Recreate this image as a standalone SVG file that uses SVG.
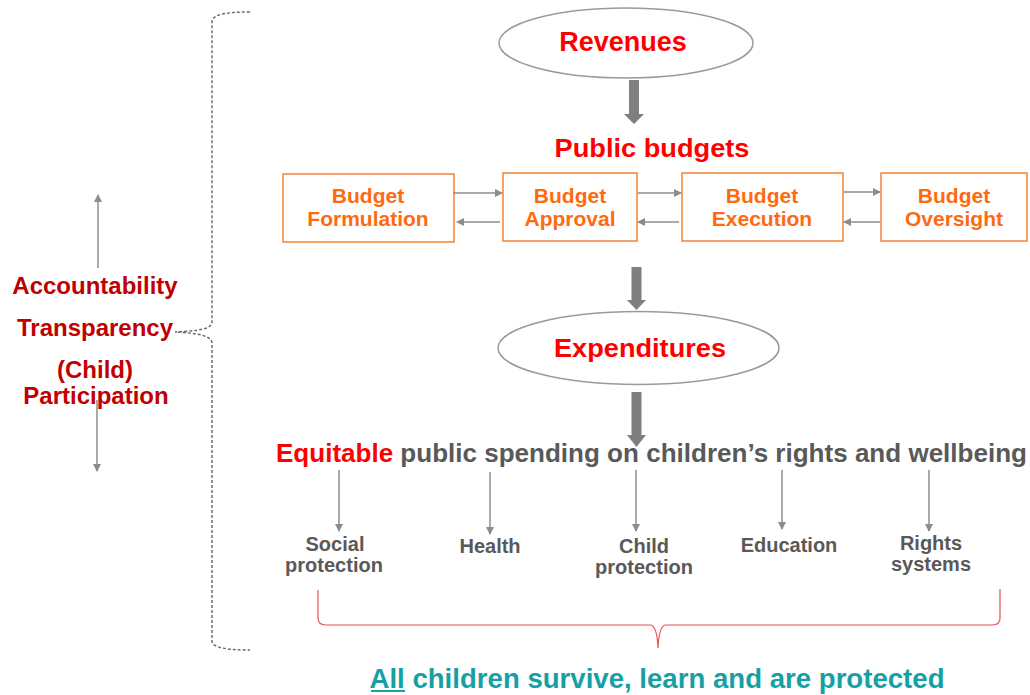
<svg xmlns="http://www.w3.org/2000/svg" width="1030" height="695" viewBox="0 0 1030 695">
  <style>
    text { font-family: "Liberation Sans", Arial, sans-serif; font-weight: bold; text-anchor: middle; }
    .red { fill: #FF0000; }
    .dred { fill: #C00000; font-size: 24px; }
    .org { fill: #FF6A10; font-size: 21px; }
    .gray { fill: #595959; }
    .cat { fill: #595959; font-size: 20px; }
    .teal { fill: #17A0A4; font-size: 27px; }
    .box { fill: #FFFFFF; stroke: #F58233; stroke-width: 1.5; }
    .ell { fill: #FFFFFF; stroke: #9A9A9A; stroke-width: 1.5; }
    .thin { stroke: #8C8C8C; stroke-width: 1.5; fill: none; marker-end: url(#tri); }
    .thick { fill: #7F7F7F; }
  </style>
  <defs>
    <marker id="tri" markerWidth="8" markerHeight="8" refX="7" refY="4" orient="auto" markerUnits="userSpaceOnUse">
      <path d="M0,0 L8,4 L0,8 Z" fill="#8C8C8C"/>
    </marker>
  </defs>

  <!-- Left governance principles with dashed brace -->
  <g id="principles">
    <text class="dred" x="95" y="294">Accountability</text>
    <text class="dred" x="95" y="336">Transparency</text>
    <text class="dred" x="95" y="378">(Child)</text>
    <text class="dred" x="96" y="404">Participation</text>
  </g>
  <g id="brace-left">
    <path d="M250,12 C228,12 212,14 212,22 L212,322 C212,329 198,331 175,332 C198,333 212,336 212,343 L212,641 C212,648 228,650 250,650" fill="none" stroke="#666666" stroke-width="1.4" stroke-dasharray="3 2"/>
  </g>

  <!-- Revenues -->
  <g id="revenues">
    <ellipse class="ell" cx="626" cy="43" rx="127" ry="35"/>
    <text class="red" x="623" y="51" font-size="27">Revenues</text>
  </g>

  <g id="public-budgets">
    <text class="red" x="652" y="157" font-size="26" textLength="195" lengthAdjust="spacingAndGlyphs">Public budgets</text>
  </g>

  <!-- Budget cycle stages -->
  <g id="formulation">
    <rect class="box" x="283" y="174" width="171" height="68"/>
    <text class="org" x="368" y="203">Budget</text>
    <text class="org" x="368" y="226">Formulation</text>
  </g>
  <g id="approval">
    <rect class="box" x="503" y="173" width="134" height="68"/>
    <text class="org" x="570" y="203">Budget</text>
    <text class="org" x="570" y="226">Approval</text>
  </g>
  <g id="execution">
    <rect class="box" x="682" y="173" width="161" height="68"/>
    <text class="org" x="762" y="203">Budget</text>
    <text class="org" x="762" y="226">Execution</text>
  </g>
  <g id="oversight">
    <rect class="box" x="881" y="173" width="146" height="68"/>
    <text class="org" x="954" y="203">Budget</text>
    <text class="org" x="954" y="226">Oversight</text>
  </g>

  <!-- Expenditures -->
  <g id="expenditures">
    <ellipse class="ell" cx="638.5" cy="348" rx="140.5" ry="36.5"/>
    <text class="red" x="640" y="357" font-size="26" textLength="172" lengthAdjust="spacingAndGlyphs">Expenditures</text>
  </g>

  <g id="equitable">
    <text x="276" y="462" font-size="25" style="text-anchor:start" textLength="751" lengthAdjust="spacingAndGlyphs"><tspan class="red">Equitable</tspan><tspan class="gray"> public spending on children’s rights and wellbeing</tspan></text>
  </g>

  <!-- Spending sectors -->
  <g id="social-protection">
    <text class="cat" x="335" y="551">Social</text>
    <text class="cat" x="334" y="572">protection</text>
  </g>
  <g id="health">
    <text class="cat" x="490" y="553">Health</text>
  </g>
  <g id="child-protection">
    <text class="cat" x="644" y="553">Child</text>
    <text class="cat" x="644" y="574">protection</text>
  </g>
  <g id="education">
    <text class="cat" x="789" y="552">Education</text>
  </g>
  <g id="rights-systems">
    <text class="cat" x="931" y="550">Rights</text>
    <text class="cat" x="931" y="571">systems</text>
  </g>

  <!-- Outcome -->
  <g id="outcome">
    <path d="M318,590 L318,618 Q318,625 326,625 L650,625 Q657,625 658,648 Q659,625 666,625 L992,625 Q1000,625 1000,618 L1000,589" fill="none" stroke="#E8505B" stroke-width="1.2"/>
    <text class="teal" x="657" y="688" textLength="575" lengthAdjust="spacingAndGlyphs">All children survive, learn and are protected</text>
    <line x1="371" y1="691" x2="405" y2="691" stroke="#17A0A4" stroke-width="2"/>
  </g>

  <!-- Connectors -->
  <g id="connectors">
    <!-- block arrows down the main flow -->
    <path class="thick" d="M629,80 L639,80 L639,114 L644,114 L634,124 L624,114 L629,114 Z"/>
    <path class="thick" d="M631.5,267 L641.5,267 L641.5,300 L646,300 L636.5,310 L627,300 L631.5,300 Z"/>
    <path class="thick" d="M631.5,392 L641.5,392 L641.5,435 L646,435 L636.5,447 L627,435 L631.5,435 Z"/>
    <!-- budget cycle links -->
    <line class="thin" x1="453" y1="193" x2="502" y2="193"/>
    <line class="thin" x1="500" y1="222" x2="457" y2="222"/>
    <line class="thin" x1="638" y1="193" x2="681" y2="193"/>
    <line class="thin" x1="679" y1="222" x2="638" y2="222"/>
    <line class="thin" x1="844" y1="192" x2="880" y2="192"/>
    <line class="thin" x1="880" y1="222" x2="844" y2="222"/>
    <!-- sector links -->
    <line class="thin" x1="339" y1="470" x2="339" y2="531"/>
    <line class="thin" x1="490" y1="472" x2="490" y2="534"/>
    <line class="thin" x1="636" y1="470" x2="636" y2="531"/>
    <line class="thin" x1="782" y1="470" x2="782" y2="529"/>
    <line class="thin" x1="929" y1="470" x2="929" y2="531"/>
    <!-- principle arrows -->
    <line class="thin" x1="98" y1="268" x2="98" y2="195"/>
    <line class="thin" x1="97" y1="400" x2="97" y2="471"/>
  </g>
</svg>
